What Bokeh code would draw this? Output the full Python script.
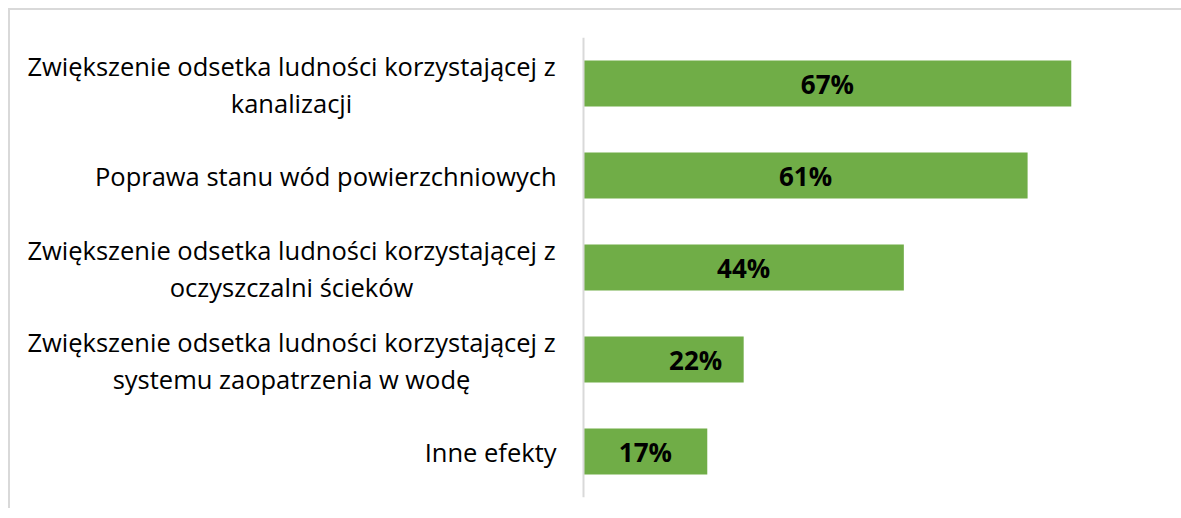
from bokeh.plotting import figure
from bokeh.models import ColumnDataSource, FactorRange, Range1d, Span
from bokeh.core.properties import value
from bokeh.embed import file_html
from bokeh.resources import INLINE

categories = [
    "Zwiększenie odsetka ludności korzystającej z\nkanalizacji",
    "Poprawa stanu wód powierzchniowych",
    "Zwiększenie odsetka ludności korzystającej z\noczyszczalni ścieków",
    "Zwiększenie odsetka ludności korzystającej z\nsystemu zaopatrzenia w wodę",
    "Inne efekty",
]
values = [67, 61, 44, 22, 17]
labels = [f"{v}%" for v in values]

# style: manual nudge of the value labels (pixels), as in the original
label_nudge_px = [0, 0, 0, 32, 0]

FONT = "Open Sans"
GREEN = "#70AD47"
GREY = "#D9D9D9"

src = ColumnDataSource(dict(cat=categories, val=values, half=[v / 2 for v in values],
                            lab=labels, nudge=label_nudge_px))
multi = [c for c in categories if "\n" in c]
single = [c for c in categories if "\n" not in c]
src_multi = ColumnDataSource(dict(cat=multi, x=[0] * len(multi)))
src_single = ColumnDataSource(dict(cat=single, x=[0] * len(single)))

p = figure(
    y_range=FactorRange(*reversed(categories), range_padding=0),
    x_range=Range1d(-78.71, 82.14),
    frame_width=1171, frame_height=460,
    min_border_left=0, min_border_right=0, min_border_top=27, min_border_bottom=11,
    output_backend="svg", toolbar_location=None,
)
p.styles = {"border-top": "2px solid #D9D9D9", "border-left": "2px solid #D9D9D9",
            "margin-left": "8px", "margin-top": "8px"}

p.hbar(y="cat", right="val", left=0, height=0.5, source=src, fill_color=GREEN, line_color=None)
p.text(x="half", y="cat", text="lab", source=src, x_offset="nudge",
       text_align="center", text_baseline="middle",
       text_font=value(FONT), text_font_style="bold", text_font_size="26px", text_color="black")

# category labels
p.text(x="x", y="cat", text="cat", source=src_single, x_offset=-27,
       text_align="right", text_baseline="middle",
       text_font=value(FONT), text_font_size="25.5px", text_color="black")
p.text(x="x", y="cat", text="cat", source=src_multi, x_offset=-292, y_offset=1,
       text_align="center", text_baseline="middle", text_line_height=1.1,
       text_font=value(FONT), text_font_size="25.5px", text_color="black")

p.add_layout(Span(location=0, dimension="height", line_color=GREY, line_width=2))

p.xaxis.visible = False
p.yaxis.visible = False
p.xgrid.visible = False
p.ygrid.visible = False
p.outline_line_color = None

open("out.html", "w").write(file_html(p, INLINE))
